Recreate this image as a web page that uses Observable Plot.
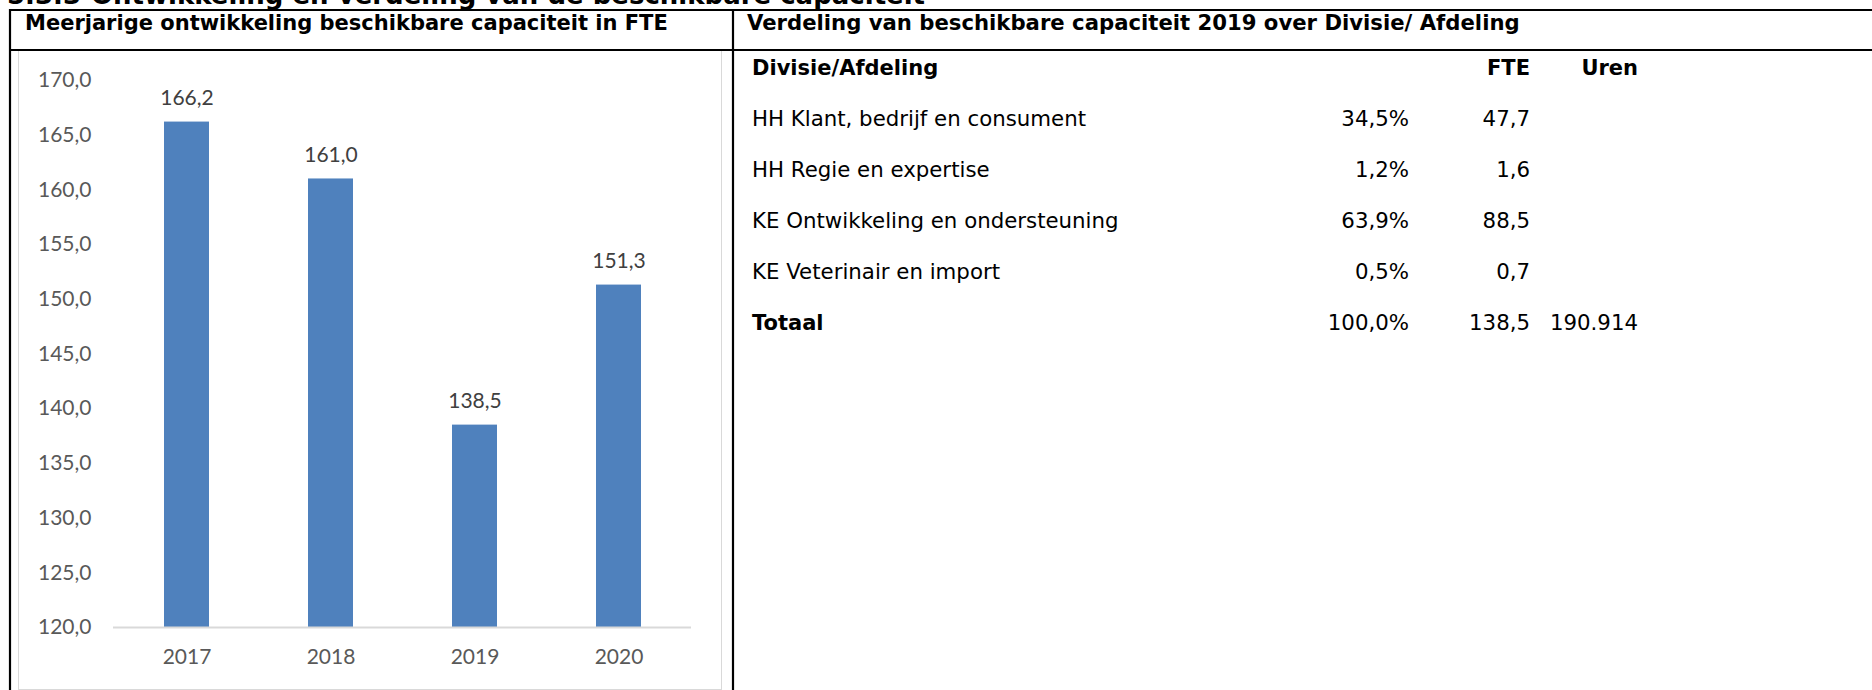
<!DOCTYPE html>
<html>
<head>
<meta charset="utf-8">
<script src="https://cdn.jsdelivr.net/npm/d3@7"></script>
<script src="https://cdn.jsdelivr.net/npm/@observablehq/plot@0.6"></script>
<style>
  html, body { margin: 0; padding: 0; background: #fff; }
  #page { position: relative; width: 1872px; height: 690px; overflow: hidden; background: #fff; }
  #chartFrame { position: absolute; left: 18px; top: 50px; width: 704px; height: 640px; box-sizing: border-box; border: 1.5px solid #d9d9d9; }
  #chart { position: absolute; left: 19px; top: 52px; }
  #overlay { position: absolute; left: 0; top: 0; pointer-events: none; }
</style>
</head>
<body>
<div id="page">
  <div id="chartFrame"></div>
  <div id="chart"></div>
  <svg id="overlay" width="1872" height="690"></svg>
</div>
<script>
// ---- data ----
const years = ["2017", "2018", "2019", "2020"];
const fteValues = [166.2, 161.0, 138.5, 151.3];
const yTicks = [120, 125, 130, 135, 140, 145, 150, 155, 160, 165, 170];

const sectionNumber = "5.3.3";
const sectionTitle = "Ontwikkeling en verdeling van de beschikbare capaciteit";
const leftTitle = "Meerjarige ontwikkeling beschikbare capaciteit in FTE";
const rightTitle = "Verdeling van beschikbare capaciteit 2019 over Divisie/ Afdeling";

const tableHeaders = ["Divisie/Afdeling", "", "FTE", "Uren"];
const divisions = ["HH Klant, bedrijf en consument", "HH Regie en expertise", "KE Ontwikkeling en ondersteuning", "KE Veterinair en import"];
const divisionPct = [34.5, 1.2, 63.9, 0.5];
const divisionFte = [47.7, 1.6, 88.5, 0.7];
const totalLabel = "Totaal";
const totalPct = 100.0;
const totalFte = 138.5;
const totalUren = 190914;

// ---- helpers ----
const nl = v => v.toFixed(1).replace(".", ",");
const nlInt = v => d3.format(",")(v).replace(/,/g, ".");

// ---- bar chart ----
const data = years.map((y, i) => ({year: y, value: fteValues[i]}));
const chart = Plot.plot({
  width: 702,
  height: 636,
  marginLeft: 94,
  marginRight: 30,
  marginTop: 28,
  marginBottom: 61,
  style: {fontFamily: "Lato, 'Open Sans', sans-serif", fontSize: "21px", background: "transparent", overflow: "visible"},
  x: {domain: years, paddingInner: 0.69, paddingOuter: 0.345, label: null},
  y: {domain: [yTicks[0], yTicks[yTicks.length - 1]], label: null},
  marks: [
    Plot.barY(data, {x: "year", y1: yTicks[0], y2: "value", fill: "#4f81bd"}),
    Plot.ruleY([yTicks[0]], {stroke: "#d9d9d9", strokeWidth: 2}),
    Plot.axisY({ticks: yTicks, tickFormat: nl, tickSize: 0, tickPadding: 22, color: "#595959", label: null}),
    Plot.axisX({tickSize: 0, tickPadding: 22, color: "#595959", label: null}),
    Plot.text(data, {x: "year", y: "value", text: d => nl(d.value), dy: -24, fill: "#404040", fontSize: 21})
  ]
});
document.getElementById("chart").appendChild(chart);

// ---- document frame, headings and table ----
const svg = d3.select("#overlay");
const font = "'DejaVu Sans', Verdana, sans-serif";

// section heading (cut off at the top, as in the source page)
svg.append("text").attr("x", 7).attr("y", 4)
  .attr("font-family", font).attr("font-weight", "bold").attr("font-size", 26)
  .text(sectionNumber);
svg.append("text").attr("x", 91).attr("y", 4)
  .attr("font-family", font).attr("font-weight", "bold").attr("font-size", 26)
  .text(sectionTitle);

// frame lines
const lineG = svg.append("g").attr("stroke", "#000").attr("stroke-width", 2.2);
lineG.append("line").attr("x1", 9).attr("x2", 1872).attr("y1", 10).attr("y2", 10);
lineG.append("line").attr("x1", 9).attr("x2", 1872).attr("y1", 50).attr("y2", 50);
lineG.append("line").attr("x1", 10).attr("x2", 10).attr("y1", 9).attr("y2", 690);
lineG.append("line").attr("x1", 733).attr("x2", 733).attr("y1", 9).attr("y2", 690);

// panel titles
svg.append("text").attr("x", 25).attr("y", 30)
  .attr("font-family", font).attr("font-weight", "bold").attr("font-size", 21)
  .text(leftTitle);
svg.append("text").attr("x", 747).attr("y", 30)
  .attr("font-family", font).attr("font-weight", "bold").attr("font-size", 21.2)
  .text(rightTitle);

// table
const colLabelX = 752, colPctX = 1409, colFteX = 1530, colUrenX = 1638;
const headerY = 75, rowY0 = 125.5, rowStep = 51.1;
const tg = svg.append("g").attr("font-family", font).attr("font-size", 21.3).attr("fill", "#000");

function cell(x, y, txt, anchor, bold) {
  tg.append("text").attr("x", x).attr("y", y).attr("text-anchor", anchor)
    .attr("font-weight", bold ? "bold" : "normal")
    .attr("font-size", bold ? 21 : null).text(txt);
}
cell(colLabelX, headerY, tableHeaders[0], "start", true);
cell(colFteX, headerY, tableHeaders[2], "end", true);
cell(colUrenX, headerY, tableHeaders[3], "end", true);

divisions.forEach((d, i) => {
  const y = rowY0 + i * rowStep;
  cell(colLabelX, y, d, "start", false);
  cell(colPctX, y, nl(divisionPct[i]) + "%", "end", false);
  cell(colFteX, y, nl(divisionFte[i]), "end", false);
});
const totY = rowY0 + divisions.length * rowStep;
cell(colLabelX, totY, totalLabel, "start", true);
cell(colPctX, totY, nl(totalPct) + "%", "end", false);
cell(colFteX, totY, nl(totalFte), "end", false);
cell(colUrenX, totY, nlInt(totalUren), "end", false);
</script>
</body>
</html>
